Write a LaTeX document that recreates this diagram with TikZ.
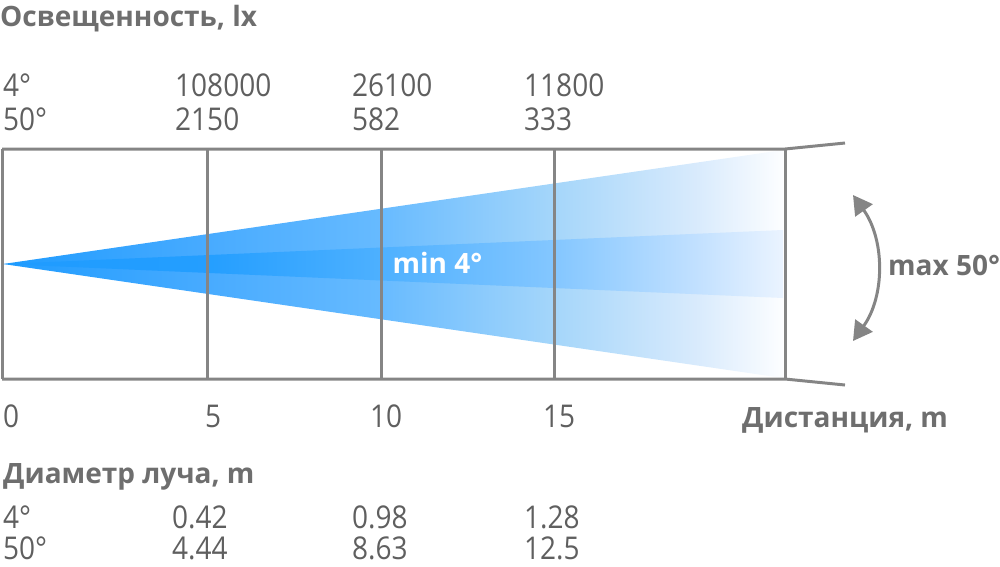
\documentclass[tikz,border=0pt]{standalone}
\usepackage{fontspec}
\setmainfont{Open Sans}
\usetikzlibrary{arrows.meta}
\definecolor{linegray}{RGB}{133,133,133}
\definecolor{numgray}{RGB}{95,95,95}
\definecolor{headgray}{RGB}{110,110,110}
\pgfdeclarehorizontalshading{outerbeam}{100bp}{rgb(0bp)=(0.12,0.61,1); rgb(25bp)=(0.12,0.61,1); rgb(38bp)=(0.28,0.67,1); rgb(49bp)=(0.40,0.73,1); rgb(60.5bp)=(0.65,0.84,0.98); rgb(69.5bp)=(0.85,0.92,0.99); rgb(75bp)=(0.99,0.995,1); rgb(100bp)=(0.99,0.995,1)}
\pgfdeclarehorizontalshading{innerbeam}{100bp}{rgb(0bp)=(0.12,0.61,1); rgb(25bp)=(0.12,0.61,1); rgb(38bp)=(0.14,0.62,1); rgb(49bp)=(0.30,0.69,1); rgb(60.5bp)=(0.52,0.78,1); rgb(69.5bp)=(0.76,0.88,1); rgb(75bp)=(0.92,0.955,1); rgb(100bp)=(0.92,0.955,1)}
\tikzset{
  grid/.style={draw=linegray, line width=3pt},
  num/.style={anchor=base west, inner sep=0pt, text=numgray, font=\fontsize{28}{33}\selectfont, yscale=1.12, transform shape},
  head/.style={anchor=base west, inner sep=0pt, text=headgray, font=\fontsize{28}{33}\selectfont\bfseries},
  arc/.style={draw=linegray, line width=3pt, {Triangle[length=19pt,width=21pt]}-{Triangle[length=19pt,width=21pt]}},
}
\begin{document}
\begin{tikzpicture}[x=1pt,y=-1pt]
\useasboundingbox (0,0) rectangle (1000,566);
% beam
\coordinate (apex) at (3,264);
\path[shading=outerbeam] (apex) -- (783,150) -- (783,378) -- cycle;
\path[shading=innerbeam] (apex) -- (783,230) -- (783,298) -- cycle;
% grid
\draw[grid] (2,149) -- (785,149) -- (845,143);
\draw[grid] (2,379) -- (785,379) -- (845,385);
\draw[grid] (2,149) -- (2,379);
\draw[grid] (207,149) -- (207,379);
\draw[grid] (381,149) -- (381,379);
\draw[grid] (554,149) -- (554,379);
\draw[grid] (785,149) -- (785,379);
% beam label
\node[anchor=base, inner sep=0pt, text=white, font=\fontsize{28}{33}\selectfont\bfseries] (minlbl) at (437.5,273) {min 4°};
% arc arrow
\coordinate (arcTop) at (853,195);
\coordinate (arcBot) at (853,341);
\draw[arc] (arcTop) .. controls (885,240) and (885,296) .. (arcBot);
\node[head] (maxlbl) at (888,275) {max 50°};
% top table
\node[head] (lux) at (0,26) {Освещенность, lx};
\node[num] (l4) at (3,96) {4°};
\node[num] (l4a) at (175,96) {108000};
\node[num] (l4b) at (352,96) {26100};
\node[num] (l4c) at (524,96) {11800};
\node[num] (l50) at (3,130.5) {50°};
\node[num] (l50a) at (175,130.5) {2150};
\node[num] (l50b) at (352,130.5) {582};
\node[num] (l50c) at (524,130.5) {333};
% axis
\node[num] (d0) at (3,427) {0};
\node[num] (d5) at (205,427) {5};
\node[num] (d10) at (370,427) {10};
\node[num] (d15) at (543,427) {15};
\node[head] (dist) at (742,427) {Дистанция, m};
% bottom table
\node[head] (diam) at (3,483) {Диаметр луча, m};
\node[num] (b4) at (3,528) {4°};
\node[num] (b4a) at (172,528) {0.42};
\node[num] (b4b) at (352,528) {0.98};
\node[num] (b4c) at (524,528) {1.28};
\node[num] (b50) at (3,559) {50°};
\node[num] (b50a) at (172,559) {4.44};
\node[num] (b50b) at (352,559) {8.63};
\node[num] (b50c) at (524,559) {12.5};
\end{tikzpicture}
\end{document}
